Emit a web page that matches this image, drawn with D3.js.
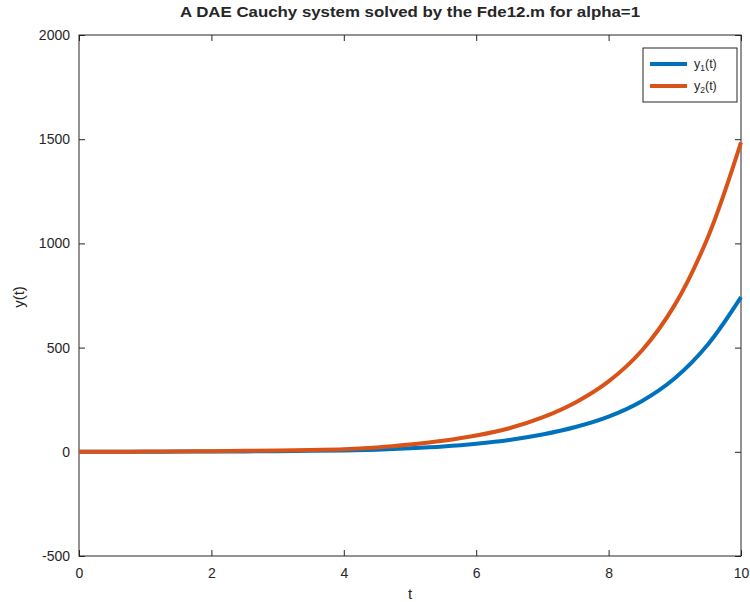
<!DOCTYPE html>
<html>
<head>
<meta charset="utf-8">
<script src="https://cdn.jsdelivr.net/npm/d3@7"></script>
<style>
  body { margin: 0; background: #fff; }
  text { font-family: "Liberation Sans", Arial, sans-serif; fill: #262626; }
</style>
</head>
<body>
<svg width="750" height="602"></svg>
<script>
var svg = d3.select("svg");

// data
var tValues = [0, 0.5, 1, 1.5, 2, 2.5, 3, 3.5, 4, 4.5, 5, 5.5, 6, 6.5, 7, 7.5, 8, 8.5, 9, 9.5, 10];
var y1Values = [0, 0.3, 0.5, 1, 1.5, 2, 3, 4.5, 6, 10, 17, 26, 39, 57, 83, 119, 169, 243, 353, 515, 742];
var y2Values = [0, 0.5, 1, 2, 3, 4.5, 6, 9, 12, 21, 35, 53, 78, 113, 165, 237, 338, 485, 705, 1030, 1485];
var xTicks = [0, 2, 4, 6, 8, 10];
var yTicks = [-500, 0, 500, 1000, 1500, 2000];
var seriesNames = ["1", "2"];
var seriesColors = ["#0072BD", "#D95319"];

var plotLeft = 79, plotRight = 741, plotTop = 35, plotBottom = 556;

var x = d3.scaleLinear().domain([0, 10]).range([plotLeft, plotRight]);
var y = d3.scaleLinear().domain([-500, 2000]).range([plotBottom, plotTop]);

// box
svg.append("rect")
  .attr("x", plotLeft).attr("y", plotTop)
  .attr("width", plotRight - plotLeft).attr("height", plotBottom - plotTop)
  .attr("fill", "none").attr("stroke", "#262626").attr("stroke-width", 1);

// axes with inward ticks, plain hyphen for negatives
var fmt = function(d) { return String(d); };
svg.append("g").attr("transform", "translate(0," + plotBottom + ")")
  .call(d3.axisBottom(x).tickValues(xTicks).tickSize(-6).tickPadding(12).tickFormat(fmt));
svg.append("g").attr("transform", "translate(0," + plotTop + ")")
  .call(d3.axisTop(x).tickValues(xTicks).tickSize(-6).tickFormat(""));
svg.append("g").attr("transform", "translate(" + plotLeft + ",0)")
  .call(d3.axisLeft(y).tickValues(yTicks).tickSize(-6).tickPadding(9).tickFormat(fmt));
svg.append("g").attr("transform", "translate(" + plotRight + ",0)")
  .call(d3.axisRight(y).tickValues(yTicks).tickSize(-6).tickFormat(""));

svg.selectAll(".domain").remove();
svg.selectAll(".tick line").attr("stroke", "#262626");
svg.selectAll(".tick text").style("font-size", "14px").attr("fill", "#262626");

// lines
var series = [y1Values, y2Values];
var line = d3.line()
  .x(function(d, i) { return x(tValues[i]); })
  .y(function(d) { return y(d); })
  .curve(d3.curveCatmullRom.alpha(0.5));

svg.selectAll(".curve").data(series).enter().append("path")
  .attr("class", "curve")
  .attr("d", line)
  .attr("fill", "none")
  .attr("stroke", function(d, i) { return seriesColors[i]; })
  .attr("stroke-width", 4);

// title and labels
svg.append("text").attr("x", 410).attr("y", 17)
  .attr("text-anchor", "middle").style("font-size", "15px").style("font-weight", "bold")
  .attr("textLength", 460).attr("lengthAdjust", "spacingAndGlyphs")
  .text("A DAE Cauchy system solved by the Fde12.m for alpha=1");
svg.append("text").attr("x", 410).attr("y", 599)
  .attr("text-anchor", "middle").style("font-size", "15px").text("t");
svg.append("text").attr("transform", "translate(24,297) rotate(-90)")
  .attr("text-anchor", "middle").style("font-size", "15px").text("y(t)");

// legend
var legend = svg.append("g");
legend.append("rect").attr("x", 643).attr("y", 48).attr("width", 94).attr("height", 54)
  .attr("fill", "#fff").attr("stroke", "#262626").attr("stroke-width", 1);
var items = legend.selectAll(".item").data(seriesNames).enter().append("g")
  .attr("transform", function(d, i) { return "translate(0," + (64 + i * 22) + ")"; });
items.append("line").attr("x1", 650).attr("x2", 687).attr("y1", 0).attr("y2", 0)
  .attr("stroke", function(d, i) { return seriesColors[i]; }).attr("stroke-width", 4);
var lt = items.append("text").attr("x", 694).attr("y", 4).style("font-size", "12.5px");
lt.append("tspan").text("y");
lt.append("tspan").attr("dy", 3).style("font-size", "8.5px").text(function(d) { return d; });
lt.append("tspan").attr("dy", -3).text("(t)");
</script>
</body>
</html>
